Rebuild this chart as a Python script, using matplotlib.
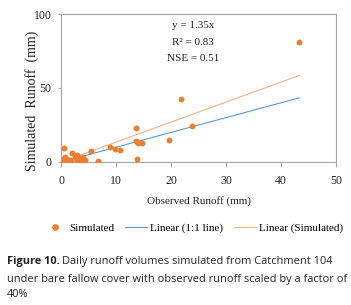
import numpy as np
import matplotlib
matplotlib.use("Agg")
import matplotlib.pyplot as plt
from matplotlib.lines import Line2D

# observed vs simulated daily runoff (mm)
obs = [43.2, 21.7, 23.8, 19.6, 13.6, 13.5, 13.9, 14.6, 13.7, 8.8, 9.7, 10.7,
       5.3, 6.7, 6.7, 0.5, 2.0, 2.9, 2.5, 3.9, 3.2, 4.1, 4.3, 0.2, 0.3, 0.9,
       1.2, 1.5, 1.8, 0.7, 2.7, 0.1, 1.0, 3.5]
sim = [80.9, 42.8, 24.1, 14.9, 23.0, 14.0, 12.6, 13.1, 1.8, 10.1, 8.8, 8.1,
       7.7, 0.9, 0.0, 9.7, 5.9, 4.5, 4.0, 3.6, 0.7, 0.0, 1.4, 1.8, 0.0, 2.2,
       0.0, 1.4, 0.0, 3.6, 1.8, 0.5, 1.0, 2.5]
slope = 1.35
x_end = 43.3

SERIF = "Liberation Serif"
SANS = "Open Sans"
ORANGE, LORANGE, BLUE, GREY, INK = "#ED7D31", "#F4B183", "#5B9BD5", "#A6A6A6", "#222222"

fig = plt.figure(figsize=(3.51, 3.05), dpi=100)
ax = fig.add_axes([0.175, 0.469, 0.782, 0.485])

xl = np.array([0, x_end])
ax.plot(xl, xl, color=BLUE, lw=0.8)
ax.plot(xl, slope * xl, color=LORANGE, lw=0.8)
ax.scatter(obs, sim, s=18, color=ORANGE, zorder=3, linewidths=0)

ax.set_xlim(0, 50); ax.set_ylim(0, 100)
ax.set_xticks(range(0, 51, 10)); ax.set_yticks([0, 50, 100])
for s in ax.spines.values():
    s.set_color(GREY); s.set_linewidth(0.8)
ax.tick_params(colors=GREY, labelcolor=INK, width=0.8, labelsize=8.5)
ax.tick_params(axis="x", length=3.6, pad=5.5)
ax.tick_params(axis="y", length=2.2, pad=5)
for lab in ax.get_xticklabels() + ax.get_yticklabels():
    lab.set_family(SERIF)
ax.set_xlabel("Observed Runoff (mm)", family=SERIF, fontsize=8, color=INK, labelpad=7)
ax.set_ylabel("Simulated  Runoff  (mm)", family=SERIF, fontsize=10, color=INK)
ax.yaxis.set_label_coords(-0.08, 0.41)

ax.text(24, 92, "y = 1.35x", family=SERIF, fontsize=8, ha="center", va="center", color=INK)
ax.text(24, 81, "R² = 0.83", family=SERIF, fontsize=8, ha="center", va="center", color=INK)
ax.text(24, 70, "NSE = 0.51", family=SERIF, fontsize=8, ha="center", va="center", color=INK)

handles = [Line2D([], [], ls="", marker="o", ms=3.8, color=ORANGE),
           Line2D([], [], color=BLUE, lw=0.8),
           Line2D([], [], color=LORANGE, lw=0.8)]
fig.legend(handles, ["Simulated", "Linear (1:1 line)", "Linear (Simulated)"],
           loc="center", bbox_to_anchor=(0.552, 0.252), ncol=3, frameon=False,
           prop={"family": SERIF, "size": 8}, handlelength=2.0, handletextpad=0.25,
           columnspacing=1.0, borderpad=0)

# caption: bold label followed by regular text
cap_fs = 7.9
bold = fig.text(0.02, 0.141, "Figure 10.", fontsize=cap_fs, family=SANS,
                weight="bold", va="center", color=INK)
r = fig.canvas.get_renderer()
bb = bold.get_window_extent(r).transformed(fig.transFigure.inverted())
fig.text(bb.x1 + 0.006, 0.141, "Daily runoff volumes simulated from Catchment 104",
         fontsize=cap_fs, family=SANS, va="center", color=INK)
fig.text(0.02, 0.085, "under bare fallow cover with observed runoff scaled by a factor of",
         fontsize=cap_fs, family=SANS, va="center", color=INK)
fig.text(0.02, 0.036, "40%", fontsize=cap_fs, family=SANS, va="center", color=INK)

fig.savefig("out.png", dpi=100)
